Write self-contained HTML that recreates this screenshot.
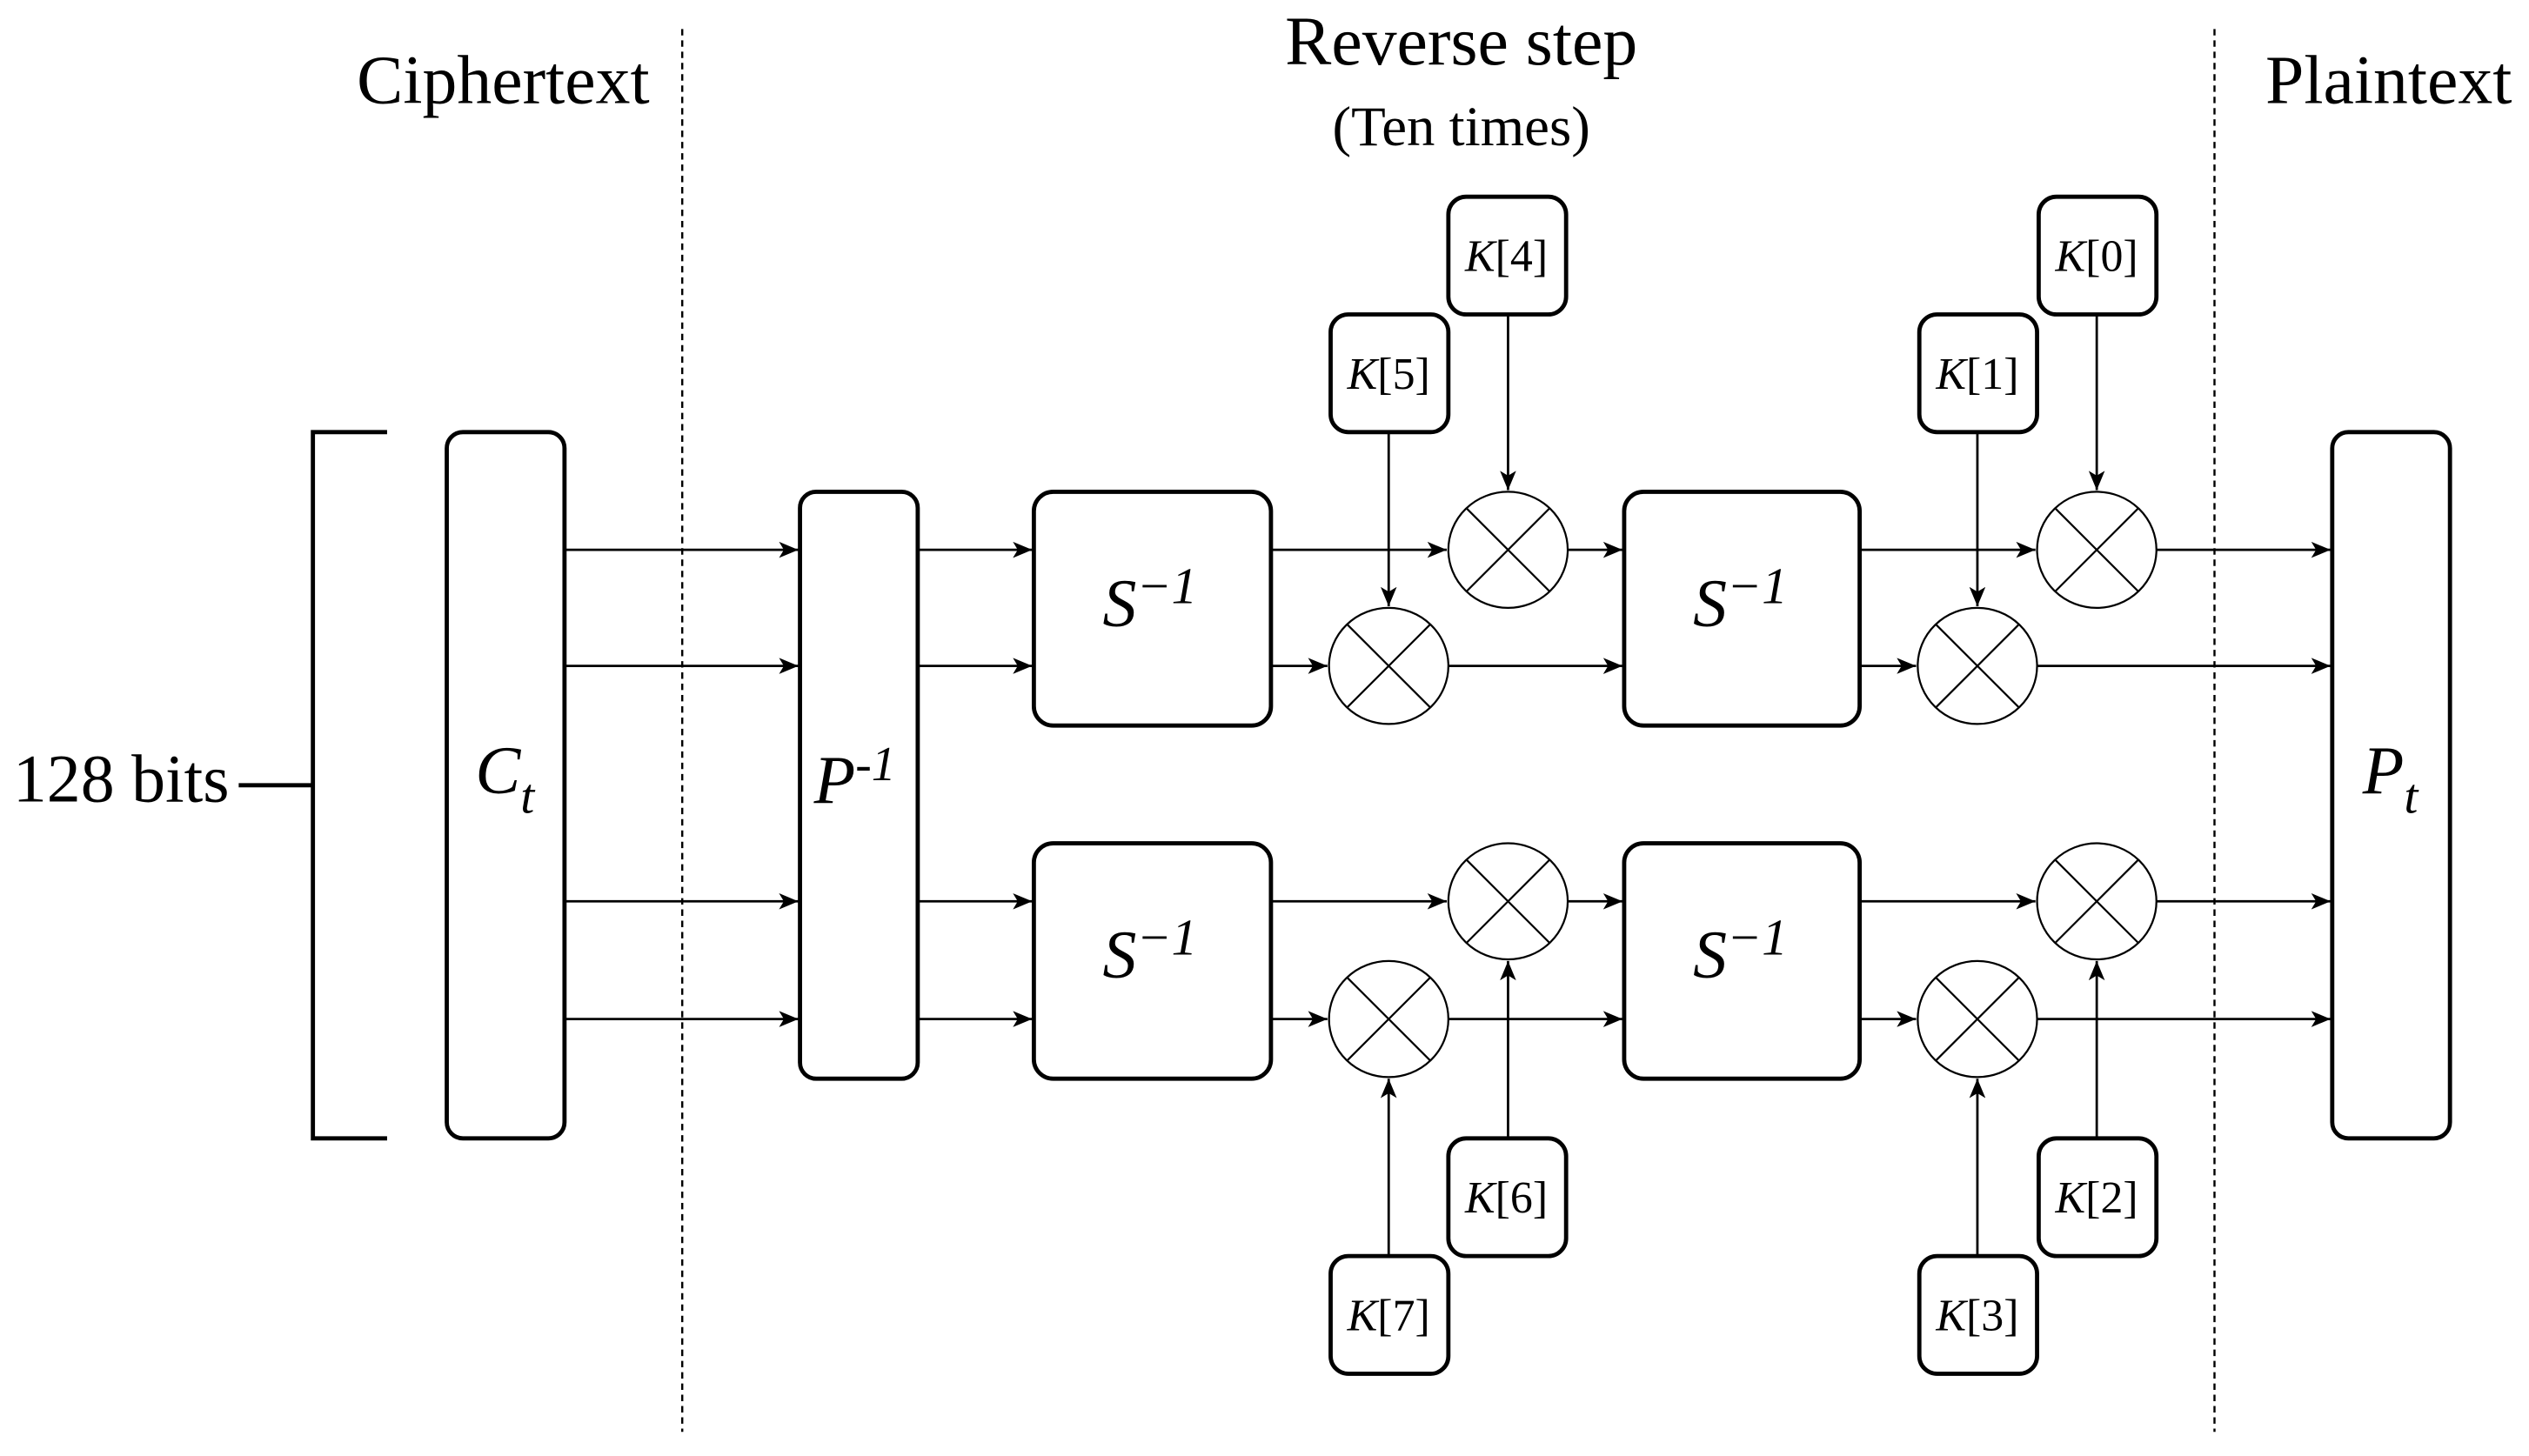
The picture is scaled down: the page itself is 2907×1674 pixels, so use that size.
<!DOCTYPE html>
<html><head><meta charset="utf-8"><style>
html,body{margin:0;padding:0;background:#fff;width:2907px;height:1674px;overflow:hidden}
svg{display:block}
text{font-family:"Liberation Serif",serif;fill:#000}
</style></head><body>
<svg width="2907" height="1674" viewBox="0 0 1568 903" preserveAspectRatio="none" xmlns="http://www.w3.org/2000/svg">
<defs>
<marker id="a" markerWidth="12" markerHeight="10" refX="12" refY="5" orient="auto" markerUnits="userSpaceOnUse">
<path d="M0,0 L12,5 L0,10 L3,5 Z" fill="#000"/>
</marker>
</defs>
<g stroke="#000" stroke-width="1.3" stroke-dasharray="4,3">
<line x1="423" y1="18" x2="423" y2="888"/>
<line x1="1373" y1="18" x2="1373" y2="888"/>
</g>
<text x="312" y="64" font-size="43" text-anchor="middle">Ciphertext</text>
<text x="906" y="40" font-size="43" text-anchor="middle">Reverse step</text>
<text x="906" y="90" font-size="35" text-anchor="middle">(Ten times)</text>
<text x="1481" y="64" font-size="43" text-anchor="middle">Plaintext</text>
<text x="8" y="497" font-size="42">128 bits</text>
<g fill="none" stroke="#000" stroke-width="2.6">
<path d="M240,268 H194 V706 H240"/>
<line x1="148" y1="487" x2="194" y2="487"/>
<rect x="277" y="268" width="73" height="438" rx="10"/>
<rect x="496" y="305" width="73" height="364" rx="10"/>
<rect x="641" y="305" width="147" height="145" rx="12"/>
<rect x="641" y="523" width="147" height="146" rx="12"/>
<rect x="1007" y="305" width="146" height="145" rx="12"/>
<rect x="1007" y="523" width="146" height="146" rx="12"/>
<rect x="1446" y="268" width="73" height="438" rx="10"/>
<rect x="898" y="122" width="73" height="73" rx="11"/>
<rect x="825" y="195" width="73" height="73" rx="11"/>
<rect x="1264" y="122" width="73" height="73" rx="11"/>
<rect x="1190" y="195" width="73" height="73" rx="11"/>
<rect x="898" y="706" width="73" height="73" rx="11"/>
<rect x="825" y="779" width="73" height="73" rx="11"/>
<rect x="1264" y="706" width="73" height="73" rx="11"/>
<rect x="1190" y="779" width="73" height="73" rx="11"/>
</g>
<g fill="none" stroke="#000" stroke-width="1.2">
<g><ellipse cx="935" cy="341" rx="37" ry="36"/><path d="M909,315 L961,367 M961,315 L909,367"/></g>
<g><ellipse cx="861" cy="413" rx="37" ry="36"/><path d="M835,387 L887,439 M887,387 L835,439"/></g>
<g><ellipse cx="935" cy="559" rx="37" ry="36"/><path d="M909,533 L961,585 M961,533 L909,585"/></g>
<g><ellipse cx="861" cy="632" rx="37" ry="36"/><path d="M835,606 L887,658 M887,606 L835,658"/></g>
<g><ellipse cx="1300" cy="341" rx="37" ry="36"/><path d="M1274,315 L1326,367 M1326,315 L1274,367"/></g>
<g><ellipse cx="1226" cy="413" rx="37" ry="36"/><path d="M1200,387 L1252,439 M1252,387 L1200,439"/></g>
<g><ellipse cx="1300" cy="559" rx="37" ry="36"/><path d="M1274,533 L1326,585 M1326,533 L1274,585"/></g>
<g><ellipse cx="1226" cy="632" rx="37" ry="36"/><path d="M1200,606 L1252,658 M1252,606 L1200,658"/></g>
</g>
<g stroke="#000" stroke-width="1.5" marker-end="url(#a)">
<line x1="350" y1="341" x2="495" y2="341"/>
<line x1="350" y1="413" x2="495" y2="413"/>
<line x1="350" y1="559" x2="495" y2="559"/>
<line x1="350" y1="632" x2="495" y2="632"/>
<line x1="569" y1="341" x2="640" y2="341"/>
<line x1="569" y1="413" x2="640" y2="413"/>
<line x1="569" y1="559" x2="640" y2="559"/>
<line x1="569" y1="632" x2="640" y2="632"/>
<line x1="788" y1="341" x2="897" y2="341"/>
<line x1="788" y1="413" x2="823" y2="413"/>
<line x1="788" y1="559" x2="897" y2="559"/>
<line x1="788" y1="632" x2="823" y2="632"/>
<line x1="972" y1="341" x2="1006" y2="341"/>
<line x1="898" y1="413" x2="1006" y2="413"/>
<line x1="972" y1="559" x2="1006" y2="559"/>
<line x1="898" y1="632" x2="1006" y2="632"/>
<line x1="1153" y1="341" x2="1262" y2="341"/>
<line x1="1153" y1="413" x2="1188" y2="413"/>
<line x1="1153" y1="559" x2="1262" y2="559"/>
<line x1="1153" y1="632" x2="1188" y2="632"/>
<line x1="1337" y1="341" x2="1445" y2="341"/>
<line x1="1263" y1="413" x2="1445" y2="413"/>
<line x1="1337" y1="559" x2="1445" y2="559"/>
<line x1="1263" y1="632" x2="1445" y2="632"/>
<line x1="935" y1="195" x2="935" y2="304"/>
<line x1="861" y1="268" x2="861" y2="376"/>
<line x1="1300" y1="195" x2="1300" y2="304"/>
<line x1="1226" y1="268" x2="1226" y2="376"/>
<line x1="935" y1="706" x2="935" y2="596"/>
<line x1="861" y1="779" x2="861" y2="669"/>
<line x1="1300" y1="706" x2="1300" y2="596"/>
<line x1="1226" y1="779" x2="1226" y2="669"/>
</g>
<g font-size="42" font-style="italic" text-anchor="middle">
<text x="313" y="492">C<tspan font-size="31" dy="12">t</tspan></text>
<text x="530" y="498">P<tspan font-size="30" dy="-14">-1</tspan></text>
<text x="713" y="388">S<tspan font-size="32" dy="-14">−1</tspan></text>
<text x="713" y="606">S<tspan font-size="32" dy="-14">−1</tspan></text>
<text x="1079" y="388">S<tspan font-size="32" dy="-14">−1</tspan></text>
<text x="1079" y="606">S<tspan font-size="32" dy="-14">−1</tspan></text>
<text x="1482" y="492">P<tspan font-size="31" dy="12">t</tspan></text>
</g>
<g font-size="28" text-anchor="middle">
<text x="934" y="168"><tspan font-style="italic">K</tspan>[4]</text>
<text x="861" y="241"><tspan font-style="italic">K</tspan>[5]</text>
<text x="1300" y="168"><tspan font-style="italic">K</tspan>[0]</text>
<text x="1226" y="241"><tspan font-style="italic">K</tspan>[1]</text>
<text x="934" y="752"><tspan font-style="italic">K</tspan>[6]</text>
<text x="861" y="825"><tspan font-style="italic">K</tspan>[7]</text>
<text x="1300" y="752"><tspan font-style="italic">K</tspan>[2]</text>
<text x="1226" y="825"><tspan font-style="italic">K</tspan>[3]</text>
</g>
</svg>
</body></html>
